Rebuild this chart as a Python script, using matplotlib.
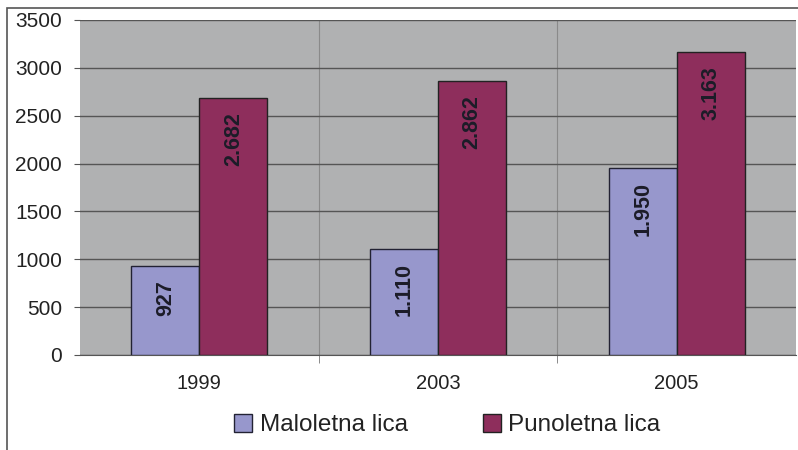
import numpy as np
import matplotlib
matplotlib.use('Agg')
import matplotlib.pyplot as plt
from matplotlib.patches import Rectangle

plt.rcParams['font.family'] = ['Liberation Sans', 'DejaVu Sans']

godine = ['1999', '2003', '2005']
maloletna = [927, 1110, 1950]
punoletna = [2682, 2862, 3163]
serije = ['Maloletna lica', 'Punoletna lica']
boje = ['#9797cc', '#8e2e5c']


def format_broj(v):
    return f'{v:,}'.replace(',', '.')


fig = plt.figure(figsize=(7.98, 4.5), dpi=100)
fig.patches.append(Rectangle((7 / 798, -0.1), 1.2, 1 - 8 / 450 + 0.1,
                             transform=fig.transFigure, fill=False,
                             edgecolor='#555555', linewidth=1.2))
ax = fig.add_axes([80 / 798, 1 - 355 / 450, 716 / 798, 335 / 450])
ax.set_facecolor('#b0b1b2')

x = np.arange(len(godine))
w = 0.285
stubovi1 = ax.bar(x - w / 2, maloletna, w, color=boje[0], edgecolor='#222233',
                  linewidth=1, label=serije[0], zorder=3)
stubovi2 = ax.bar(x + w / 2, punoletna, w, color=boje[1], edgecolor='#222222',
                  linewidth=1, label=serije[1], zorder=3)

for stubovi, vrednosti in [(stubovi1, maloletna), (stubovi2, punoletna)]:
    for p, v in zip(stubovi, vrednosti):
        ax.annotate(format_broj(v), (p.get_x() + p.get_width() / 2, v),
                    xytext=(0, -10), textcoords='offset points',
                    rotation=90, ha='center', va='top', fontsize=15.5,
                    fontweight='bold', color='#1c1c28', zorder=4)

ax.set_xlim(-0.5, 2.5)
ax.set_ylim(0, 3500)
ax.set_yticks(range(0, 3501, 500))
ax.set_xticks(x)
ax.set_xticklabels(godine)
ax.set_xticks([0.5, 1.5], minor=True)
ax.tick_params(axis='x', which='major', length=0, pad=14, labelsize=14.5,
               labelcolor='#222222')
ax.tick_params(axis='x', which='minor', length=6, color='#777777')
ax.tick_params(axis='y', length=4, color='#555555', labelsize=15, pad=9,
               labelcolor='#222222')
ax.grid(axis='y', color='#555555', linewidth=1, zorder=1)
ax.grid(axis='x', which='minor', color='#8a8a8a', linewidth=0.8, zorder=1)
for s in ['top', 'right', 'left']:
    ax.spines[s].set_visible(False)
ax.spines['bottom'].set_color('#555555')

ax.legend(loc='center', bbox_to_anchor=(0.513, -0.209), ncol=2,
          frameon=False, fontsize=17.5, handlelength=0.75, handleheight=0.75,
          handletextpad=0.3, columnspacing=3.1, borderpad=0,
          labelcolor='#222222')

fig.savefig('out.png', dpi=100)
